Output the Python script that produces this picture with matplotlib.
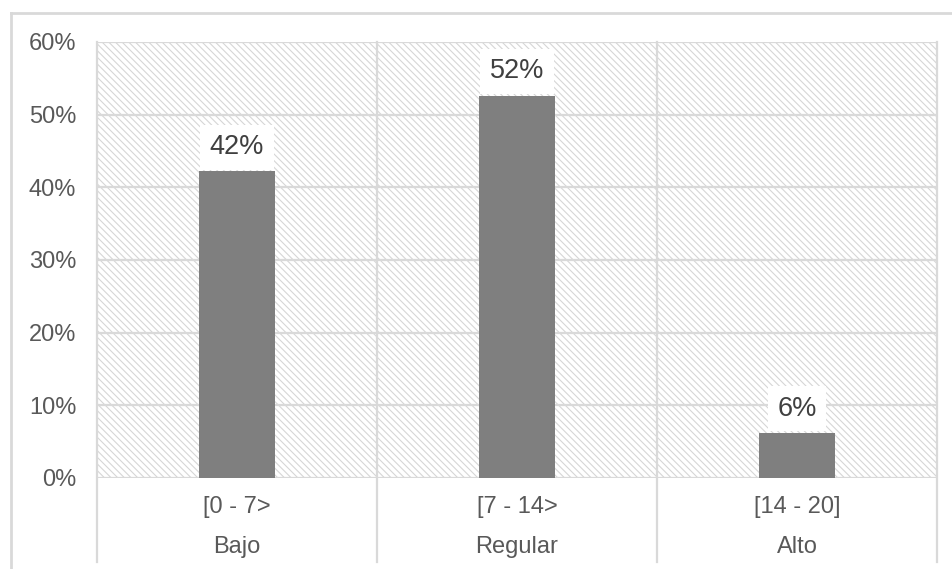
import matplotlib.pyplot as plt
from matplotlib.patches import Rectangle
from matplotlib.lines import Line2D
from matplotlib.transforms import blended_transform_factory

plt.rcParams['font.family'] = ['Liberation Sans', 'DejaVu Sans']
plt.rcParams['hatch.linewidth'] = 0.8

rangos = ['[0 - 7>', '[7 - 14>', '[14 - 20]']
niveles = ['Bajo', 'Regular', 'Alto']
porcentajes = [42.2, 52.6, 6.2]
etiquetas = ['42%', '52%', '6%']
yticks = [0, 10, 20, 30, 40, 50, 60]

gris_linea = '#d9d9d9'
gris_texto = '#595959'

fig = plt.figure(figsize=(9.52, 5.69), dpi=100)
ax = fig.add_axes([97 / 952, 1 - 478 / 569, 840 / 952, 436 / 569])

x = range(len(rangos))
ax.set_xlim(-0.5, len(rangos) - 0.5)
ax.set_ylim(0, 60)

# fondo rayado
ax.add_patch(Rectangle((0, 0), 1, 1, transform=ax.transAxes, facecolor='white',
                       edgecolor='#d6d6d6', hatch='\\\\\\\\\\', linewidth=0, zorder=0))

for t in yticks:
    ax.axhline(t, color=gris_linea, lw=1.6, zorder=1)

ax.bar(x, porcentajes, width=0.27, color='#7f7f7f', zorder=3)

for i, (v, lab) in enumerate(zip(porcentajes, etiquetas)):
    ax.annotate(lab, (i, v), xytext=(0, 17.5), textcoords='offset points',
                ha='center', va='center', fontsize=19.5, color='#404040', zorder=5,
                bbox=dict(boxstyle='square,pad=0.35', facecolor='white', edgecolor='none'))

ax.set_yticks(yticks)
ax.set_yticklabels([f'{t}%' for t in yticks], fontsize=17, color=gris_texto)
ax.tick_params(axis='y', length=0, pad=15)
ax.set_xticks([])
for s in ax.spines.values():
    s.set_visible(False)

# separadores de categoria y etiquetas de dos filas
trans = blended_transform_factory(ax.transData, ax.transAxes)
for b in [-0.5, 0.5, 1.5, 2.5]:
    ax.add_line(Line2D([b, b], [1, -0.193], transform=trans, color=gris_linea,
                       lw=1.6, clip_on=False, zorder=2))
for i in x:
    ax.text(i, -0.066, rangos[i], transform=trans, ha='center', va='center',
            fontsize=17, color=gris_texto)
    ax.text(i, -0.158, niveles[i], transform=trans, ha='center', va='center',
            fontsize=17, color=gris_texto)

# borde exterior
fig.add_artist(Line2D([11 / 952, 11 / 952], [0, 1 - 13 / 569], color=gris_linea, lw=2))
fig.add_artist(Line2D([11 / 952, 1], [1 - 13 / 569, 1 - 13 / 569], color=gris_linea, lw=2))

fig.savefig('out.png', dpi=100, facecolor='white')
